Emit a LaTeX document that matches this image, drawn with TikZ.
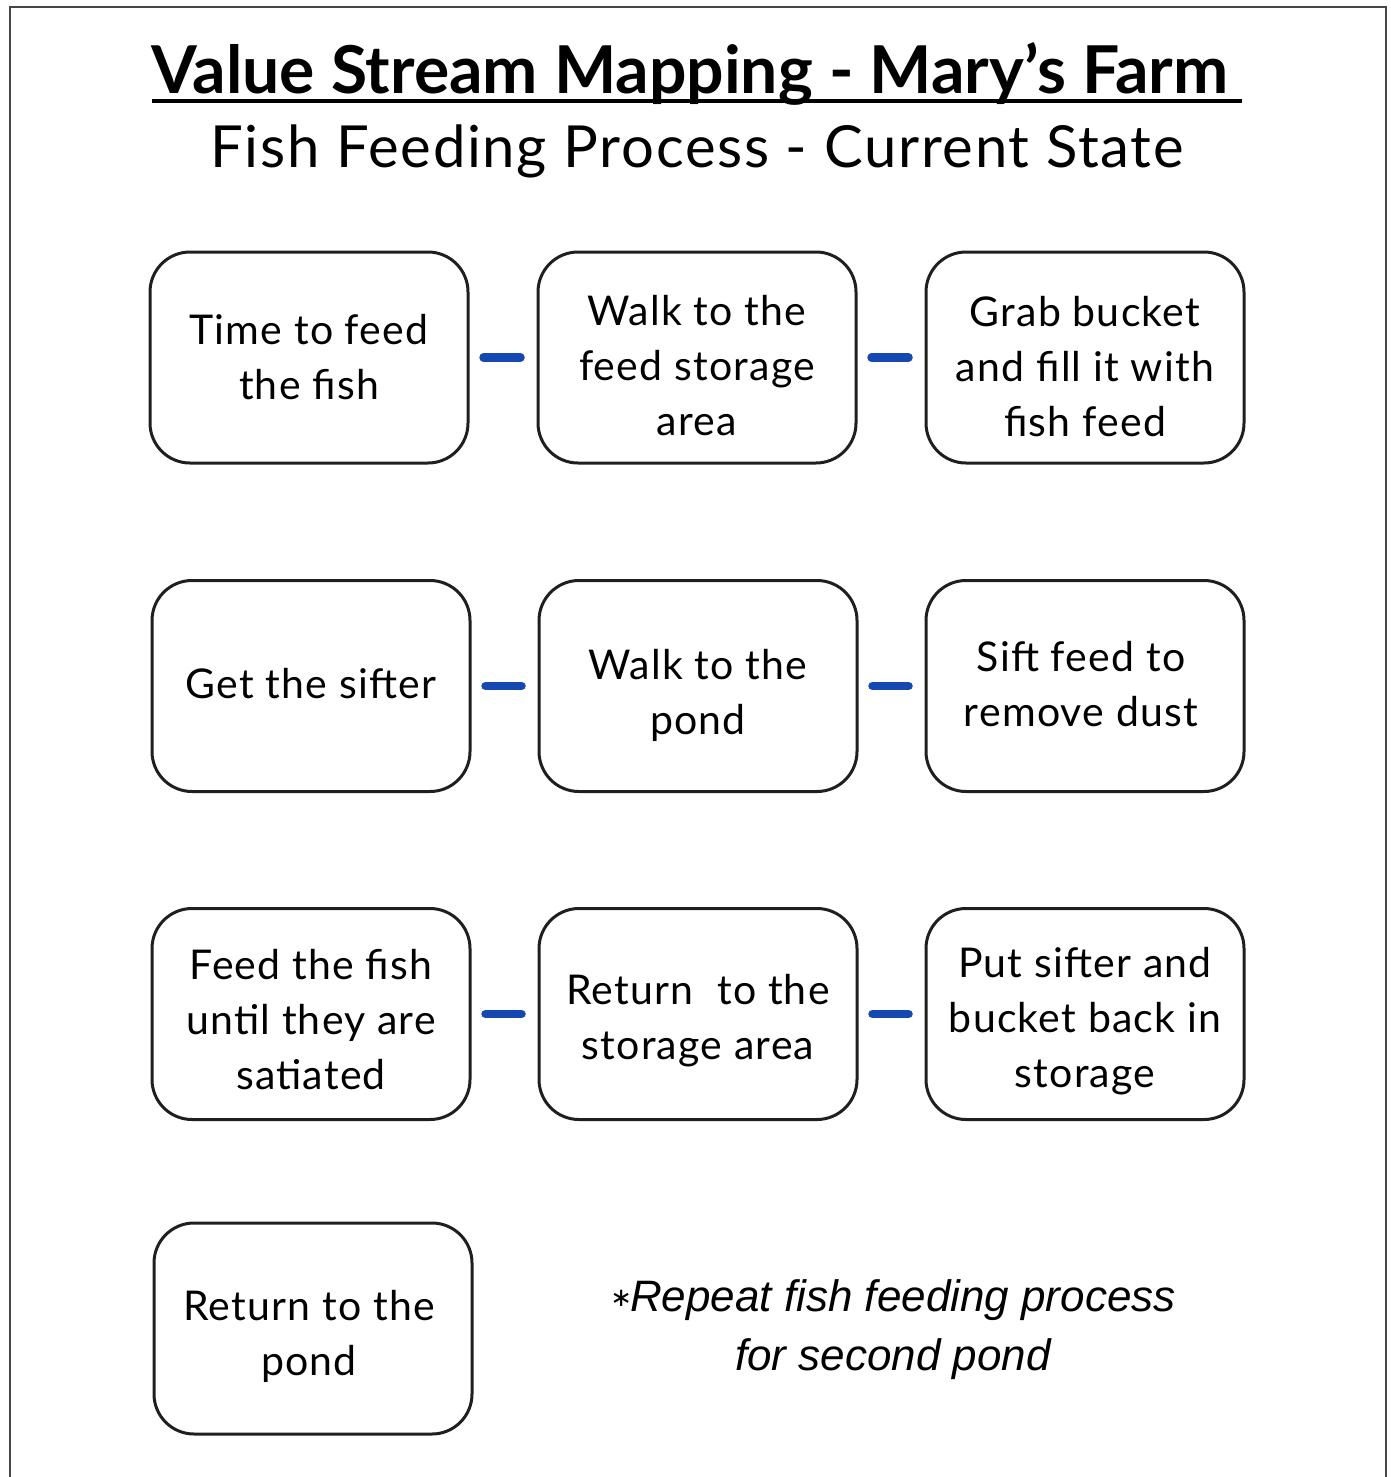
\documentclass[tikz,border=0pt]{standalone}
\usepackage{fontspec}
\setmainfont{Lato}
\newfontfamily\footfont{Liberation Sans}
\newfontfamily\starfont{DejaVu Sans}
\definecolor{linkblue}{RGB}{22,72,178}
\definecolor{framegray}{RGB}{70,70,70}
\begin{document}
\begin{tikzpicture}[x=1pt,y=-1pt,
  stepbox/.style={draw=black!88, line width=3pt, rounded corners=40pt,
    minimum width=318pt, minimum height=211pt, inner sep=0pt},
  boxtext/.style={align=center, inner sep=0pt,
    font=\fontsize{41}{55}\selectfont\addfontfeature{LetterSpace=3}},
  link/.style={draw=linkblue, line width=8.5pt, line cap=round,
    shorten <=14pt, shorten >=16pt}]
\useasboundingbox (0,0) rectangle (1391,1477);
\draw[framegray, line width=2pt] (9.5,1477) -- (9.5,7.5) -- (1385.5,7.5) -- (1385.5,1477);

\node[anchor=base, inner sep=0pt, font=\fontsize{66}{70}\selectfont\bfseries] (title) at (690,94) {Value Stream Mapping - Mary's Farm};
\coordinate (ulA) at ([yshift=-7pt]title.base west);
\coordinate (ulB) at ([yshift=-7pt, xshift=14pt]title.base east);
\draw[line width=4pt] (ulA) -- (ulB);
\node[anchor=base, inner sep=0pt, font=\fontsize{58}{60}\selectfont\addfontfeature{LetterSpace=3}] (sub) at (697,167) {Fish Feeding Process - Current State};

% boxes
\node[stepbox] (a1) at (309,357.5) {};
\node[stepbox] (a2) at (697,357.5) {};
\node[stepbox] (a3) at (1085,357.5) {};
\node[stepbox] (b1) at (311,686) {};
\node[stepbox] (b2) at (698,686) {};
\node[stepbox] (b3) at (1085,686) {};
\node[stepbox] (c1) at (311,1014) {};
\node[stepbox] (c2) at (698,1014) {};
\node[stepbox] (c3) at (1085,1014) {};
\node[stepbox] (d1) at (313,1328.5) {};

% box texts
\node[boxtext] (a1t) at ([yshift=0pt]a1.center) {Time to feed\\the fish};
\node[boxtext] (a2t) at ([yshift=-8pt]a2.center) {Walk to the\\feed storage\\area};
\node[boxtext] (a3t) at ([yshift=-9pt]a3.center) {Grab bucket\\and fill it with\\fish feed};
\node[boxtext] (b1t) at ([yshift=2pt]b1.center) {Get the sifter};
\node[boxtext] (b2t) at ([yshift=-9pt]b2.center) {Walk to the\\pond};
\node[boxtext] (b3t) at ([xshift=-4pt, yshift=2pt]b3.center) {Sift feed to\\remove dust};
\node[boxtext] (c1t) at ([yshift=-6pt]c1.center) {Feed the fish\\until they are\\satiated};
\node[boxtext] (c2t) at ([yshift=-7pt]c2.center) {Return\ \ to the\\storage area};
\node[boxtext] (c3t) at ([yshift=-7pt]c3.center) {Put sifter and\\bucket back in\\storage};
\node[boxtext] (d1t) at ([xshift=-4pt, yshift=-8pt]d1.center) {Return to the\\pond};

\draw[link] (a1) -- (a2);
\draw[link] (a2) -- (a3);
\draw[link] (b1) -- (b2);
\draw[link] (b2) -- (b3);
\draw[link] (c1) -- (c2);
\draw[link] (c2) -- (c3);

\node[align=center, inner sep=0pt, font=\footfont\itshape\fontsize{44}{59}\selectfont] (note) at (893,1330) {{\starfont\upshape\fontsize{26}{26}\selectfont\raisebox{5pt}{∗}}\kern-2pt Repeat fish feeding process\\for second pond};
\end{tikzpicture}
\end{document}
